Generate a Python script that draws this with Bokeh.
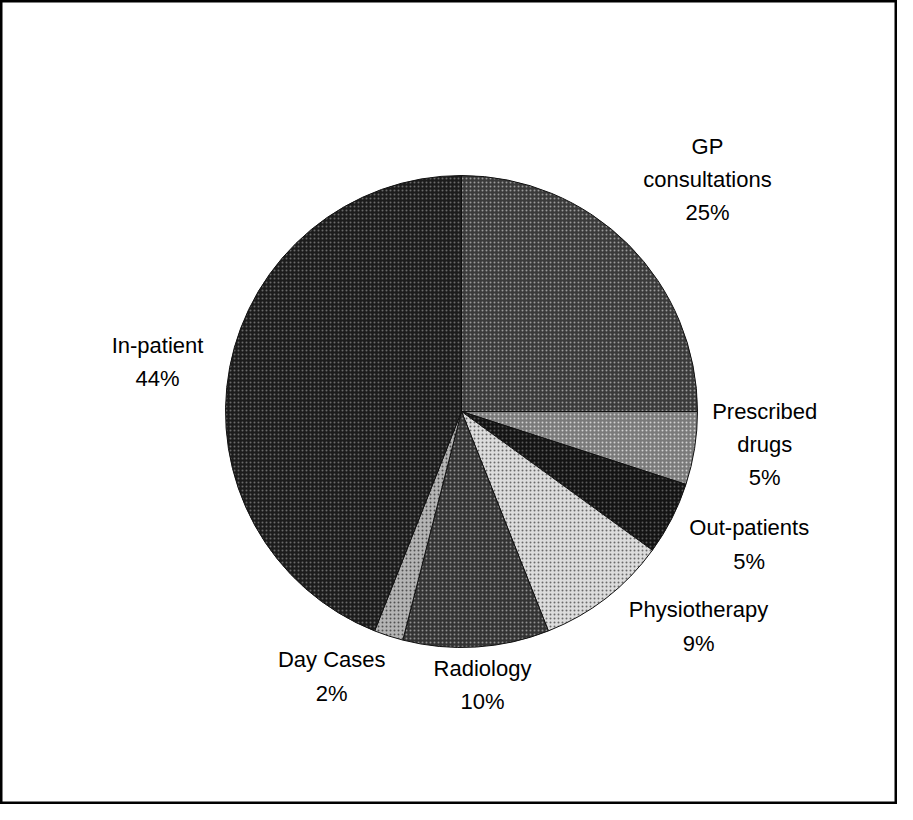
import math
from bokeh.plotting import figure
from bokeh.models import Range1d, ColumnDataSource
from bokeh.core.properties import value
from bokeh.embed import file_html
from bokeh.resources import INLINE

# ---- data ----
categories = ["GP\nconsultations", "Prescribed\ndrugs", "Out-patients",
              "Physiotherapy", "Radiology", "Day Cases", "In-patient"]
percent = [25, 5, 5, 9, 10, 2, 44]

# ---- styles ----
base_fill = ["#3a3a3a", "#7a7a7a", "#141414", "#dcdcdc", "#333333", "#b4b4b4", "#1c1c1c"]
dot_color = ["#9a9a9a", "#d0d0d0", "#5a5a5a", "#6a6a6a", "#909090", "#505050", "#6a6a6a"]
label_dist = [338, 305, 317, 320, 274, 295, 308]
label_nudge = [-1.7, 2.8, 2.2, 10.0, 0.8, -8.1, 1.5]

W, H = 897, 804
cx, cy, R = 461, 393, 236

p = figure(width=W, height=H, x_range=Range1d(0, W), y_range=Range1d(0, H),
           output_backend="svg", toolbar_location=None, min_border=0)
p.axis.visible = False
p.grid.visible = False
p.outline_line_color = "black"
p.outline_line_width = 4
p.background_fill_color = "white"
p.border_fill_color = "white"

total = sum(percent)
starts, ends, mids = [], [], []
cum = 0.0
for v in percent:
    a0 = 90 - cum / total * 360
    cum += v
    a1 = 90 - cum / total * 360
    starts.append(math.radians(a0))
    ends.append(math.radians(a1))
    mids.append((a0 + a1) / 2)

src = ColumnDataSource(dict(start=starts, end=ends, fill=base_fill, dot=dot_color))
p.wedge(x=cx, y=cy, radius=R, start_angle="start", end_angle="end", direction="clock",
        source=src, fill_color="fill", line_color="#111111", line_width=1,
        hatch_pattern="dot", hatch_color="dot", hatch_scale=4, hatch_weight=1.5)

lx, ly, texts = [], [], []
for cat, v, m, d, n in zip(categories, percent, mids, label_dist, label_nudge):
    a = math.radians(m + n)
    lx.append(cx + d * math.cos(a))
    ly.append(cy + d * math.sin(a))
    texts.append(f"{cat}\n{v}%")

p.text(x=lx, y=ly, text=texts, text_align="center", text_baseline="middle",
       text_font=value("Liberation Sans"), text_font_size="22px",
       text_color="black", text_line_height=1.33)

open("out.html", "w").write(file_html(p, INLINE))
